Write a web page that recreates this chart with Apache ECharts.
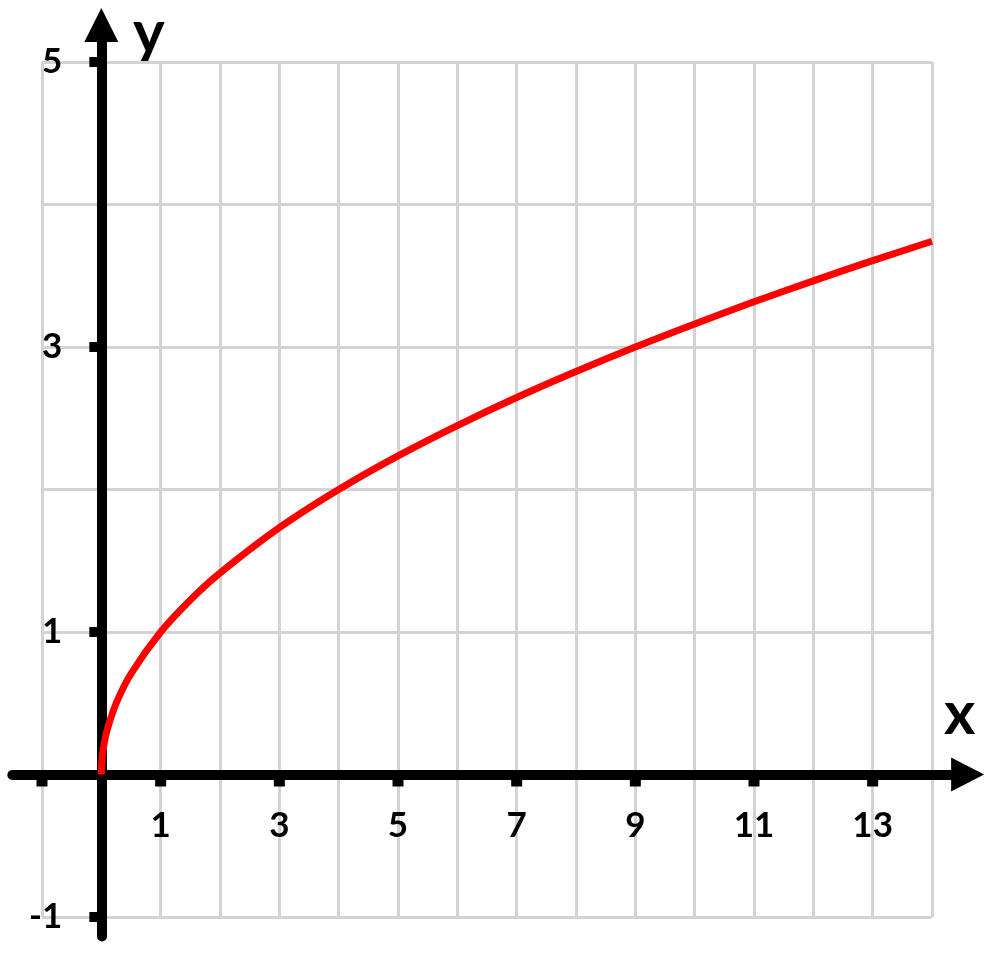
<!DOCTYPE html>
<html>
<head>
<meta charset="utf-8">
<script src="https://cdn.jsdelivr.net/npm/echarts@6/dist/echarts.min.js"></script>
<style>html,body{margin:0;padding:0;background:#fff}#chart{width:1000px;height:955px}</style>
</head>
<body>
<div id="chart"></div>
<script>
// curve y = sqrt(x)
var curveX = [0, 0.01, 0.05, 0.1, 0.25, 0.5, 1, 1.5, 2, 3, 4, 5, 6, 7, 8, 9, 10, 11, 12, 13, 14];
var curveY = [0, 0.1, 0.224, 0.316, 0.5, 0.707, 1, 1.225, 1.414, 1.732, 2, 2.236, 2.449, 2.646, 2.828, 3, 3.162, 3.317, 3.464, 3.606, 3.742];
// tick marks and labels
var xTicks = [-1, 1, 3, 5, 7, 9, 11, 13];
var xLabels = [1, 3, 5, 7, 9, 11, 13];
var yTicks = [-1, 1, 3, 5];
var yLabels = [-1, 1, 3, 5];

var font = 'Lato, "Open Sans", sans-serif';

// grid with the grey lines: x -1..14, y -1..5
var gLeft = 42, gTop = 62, gW = 890, gH = 855;
var ux = gW / 15, uy = gH / 6;
// black axes reach a bit further out than the grey grid
var axMin = -1.5, axMax = 14.6, ayMin = -1.137, ayMax = 5.26;

var curve = [];
for (var i = 0; i < curveX.length; i++) curve.push([curveX[i], curveY[i]]);
var xt = [];
for (var i = 0; i < xTicks.length; i++) xt.push([xTicks[i], 0]);
var yt = [];
for (var i = 0; i < yTicks.length; i++) yt.push([0, yTicks[i]]);

var labelStyle = {color: '#000', opacity: 1, fontSize: 35, fontWeight: 'bold', fontFamily: font};

var myChart = echarts.init(document.getElementById('chart'));
var option = {
    animation: false,
    backgroundColor: '#fff',
    grid: [
        {left: gLeft, top: gTop, width: gW, height: gH, containLabel: false, outerBoundsMode: 'none'},
        {
            left: gLeft + (axMin + 1) * ux,
            width: (axMax - axMin) * ux,
            top: gTop - (ayMax - 5) * uy,
            height: (ayMax - ayMin) * uy,
            containLabel: false, outerBoundsMode: 'none'
        }
    ],
    xAxis: [
        {
            gridIndex: 0, type: 'value', min: -1, max: 14, interval: 1,
            axisLine: {show: false}, axisTick: {show: false}, axisLabel: {show: false},
            splitLine: {show: true, lineStyle: {color: '#d3d3d3', width: 3}}
        },
        {
            gridIndex: 1, type: 'value', min: axMin, max: axMax,
            axisLine: {show: true, onZero: true, symbol: ['none', 'triangle'], symbolSize: [34, 33],
                lineStyle: {color: '#000', width: 10}},
            axisTick: {show: false}, axisLabel: {show: false}, splitLine: {show: false}
        }
    ],
    yAxis: [
        {
            gridIndex: 0, type: 'value', min: -1, max: 5, interval: 1,
            axisLine: {show: false}, axisTick: {show: false}, axisLabel: {show: false},
            splitLine: {show: true, lineStyle: {color: '#d3d3d3', width: 3}}
        },
        {
            gridIndex: 1, type: 'value', min: ayMin, max: ayMax,
            axisLine: {show: true, onZero: true, symbol: ['none', 'triangle'], symbolSize: [34, 34],
                lineStyle: {color: '#000', width: 10}},
            axisTick: {show: false}, axisLabel: {show: false}, splitLine: {show: false}
        }
    ],
    graphic: [
        {type: 'text', left: 133, top: 4, style: {text: 'y', font: 'bold 60px ' + font, fill: '#000'}},
        {type: 'text', left: 944, top: 685, style: {text: 'x', font: 'bold 60px ' + font, fill: '#000'}}
    ],
    series: [
        {
            name: 'xticks', type: 'scatter', xAxisIndex: 0, yAxisIndex: 0, data: xt,
            symbol: 'rect', symbolSize: [11, 12], symbolOffset: [0, 6],
            itemStyle: {color: '#000', opacity: 1}, silent: true, z: 1,
            label: Object.assign({
                show: true, position: 'bottom', distance: 22,
                formatter: function (p) { return xLabels.indexOf(p.value[0]) >= 0 ? String(p.value[0]) : ''; }
            }, labelStyle)
        },
        {
            name: 'yticks', type: 'scatter', xAxisIndex: 0, yAxisIndex: 0, data: yt,
            symbol: 'rect', symbolSize: [12, 10], symbolOffset: [-6, 0],
            itemStyle: {color: '#000', opacity: 1}, silent: true, z: 1,
            label: Object.assign({
                show: true, position: 'left', distance: 27,
                formatter: function (p) { return yLabels.indexOf(p.value[1]) >= 0 ? String(p.value[1]) : ''; }
            }, labelStyle)
        },
        {
            name: 'sqrt', type: 'line', xAxisIndex: 0, yAxisIndex: 0, data: curve,
            smooth: 0.3, showSymbol: false, symbol: 'none',
            lineStyle: {color: '#ff0000', width: 7}, z: 5
        }
    ]
};
myChart.setOption(option);
</script>
</body>
</html>
